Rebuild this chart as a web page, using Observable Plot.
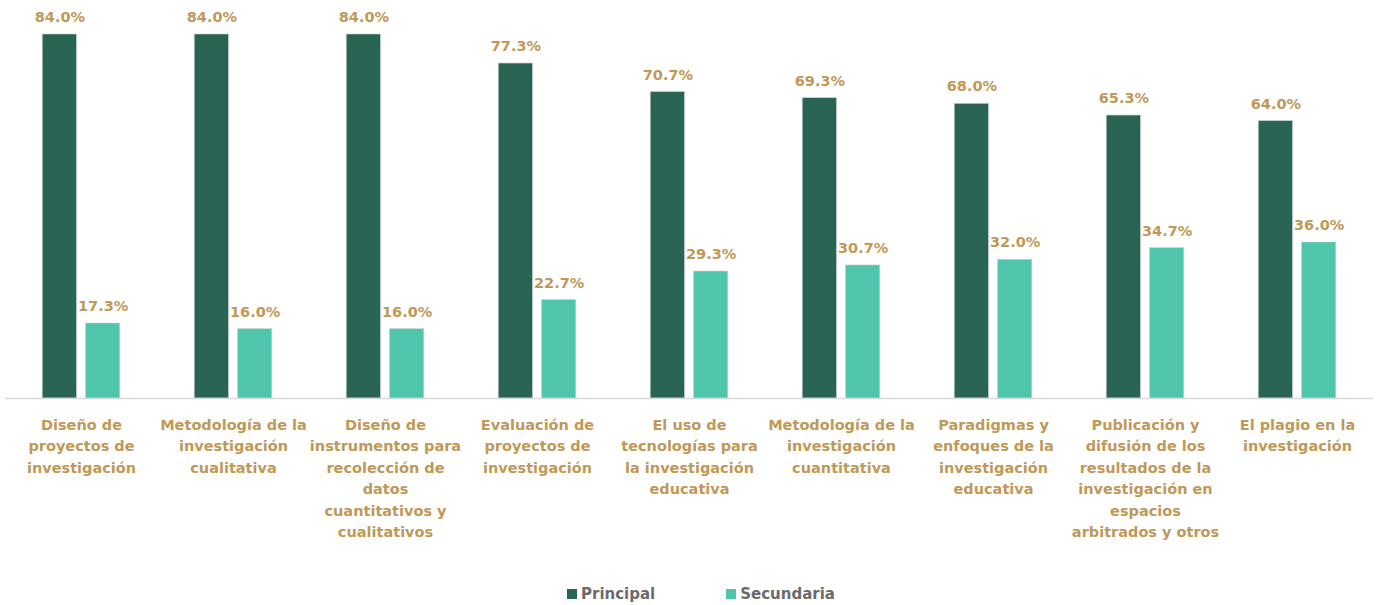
<!DOCTYPE html>
<html>
<head>
<meta charset="utf-8">
<script src="https://cdn.jsdelivr.net/npm/d3@7"></script>
<script src="https://cdn.jsdelivr.net/npm/@observablehq/plot@0.6"></script>
<style>
  body { margin: 0; background: #fff; font-family: "DejaVu Sans", sans-serif; }
  #wrap { position: relative; width: 1376px; height: 605px; }
  #legend { position: absolute; top: 585px; left: 13px; width: 1376px; display: flex; justify-content: center; gap: 71px; font-weight: bold; font-size: 15px; color: #6b6b6b; }
  #legend span.item { display: flex; align-items: center; gap: 4px; }
  #legend span.sw { width: 10px; height: 10px; display: inline-block; }
</style>
</head>
<body>
<div id="wrap"><div id="chart"></div><div id="legend"></div></div>
<script>
const categories = [
  "Diseño de proyectos de investigación",
  "Metodología de la investigación cualitativa",
  "Diseño de instrumentos para recolección de datos cuantitativos y cualitativos",
  "Evaluación de proyectos de investigación",
  "El uso de tecnologías para la investigación educativa",
  "Metodología de la investigación cuantitativa",
  "Paradigmas y enfoques de la investigación educativa",
  "Publicación y difusión de los resultados de la investigación en espacios arbitrados y otros",
  "El plagio en la investigación"
];
const tickLabels = [
  "Diseño de\nproyectos de\ninvestigación",
  "Metodología de la\ninvestigación\ncualitativa",
  "Diseño de\ninstrumentos para\nrecolección de\ndatos\ncuantitativos y\ncualitativos",
  "Evaluación de\nproyectos de\ninvestigación",
  "El uso de\ntecnologías para\nla investigación\neducativa",
  "Metodología de la\ninvestigación\ncuantitativa",
  "Paradigmas y\nenfoques de la\ninvestigación\neducativa",
  "Publicación y\ndifusión de los\nresultados de la\ninvestigación en\nespacios\narbitrados y otros",
  "El plagio en la\ninvestigación"
];
const series = ["Principal", "Secundaria"];
const principal = [84.0, 84.0, 84.0, 77.3, 70.7, 69.3, 68.0, 65.3, 64.0];
const secundaria = [17.3, 16.0, 16.0, 22.7, 29.3, 30.7, 32.0, 34.7, 36.0];
const colors = ["#2a6455", "#4fc6ab"];

const data = [];
categories.forEach((c, i) => {
  data.push({cat: c, serie: series[0], value: principal[i]});
  data.push({cat: c, serie: series[1], value: secundaria[i]});
});
const labelOf = new Map(categories.map((c, i) => [c, tickLabels[i]]));
const gold = "#c09858";

const chart = Plot.plot({
  width: 1376,
  height: 570,
  marginTop: 34,
  marginBottom: 172,
  marginLeft: 5,
  marginRight: 3,
  style: {fontFamily: "DejaVu Sans, sans-serif"},
  fx: {domain: categories, padding: 0, label: null, round: false},
  x: {domain: series, paddingInner: 0.209, paddingOuter: 0.86, round: false, axis: null},
  y: {domain: [0, 84], axis: null},
  color: {domain: series, range: colors},
  marks: [
    Plot.barY(data, {fx: "cat", x: "serie", y: "value", fill: "serie", stroke: "#c8d0cc", strokeWidth: 0.6, insetLeft: 0, insetRight: 0}),
    Plot.ruleY([0], {stroke: "#d9d9d9", strokeWidth: 1.5}),
    Plot.text(data, {fx: "cat", x: "serie", y: "value", text: d => d.value.toFixed(1) + "%", dy: -17, fill: gold, fontWeight: "bold", fontSize: 14.5}),
    Plot.axisFx({anchor: "bottom", tickSize: 0, tickPadding: 16, lineAnchor: "top", lineHeight: 1.48, fontSize: 14.5, fontWeight: "bold", color: gold, fill: gold, tickFormat: c => labelOf.get(c), label: null})
  ]
});
document.getElementById("chart").appendChild(chart);

const legend = document.getElementById("legend");
series.forEach((s, i) => {
  const it = document.createElement("span");
  it.className = "item";
  it.innerHTML = `<span class="sw" style="background:${colors[i]}"></span>${s}`;
  legend.appendChild(it);
});
</script>
</body>
</html>
